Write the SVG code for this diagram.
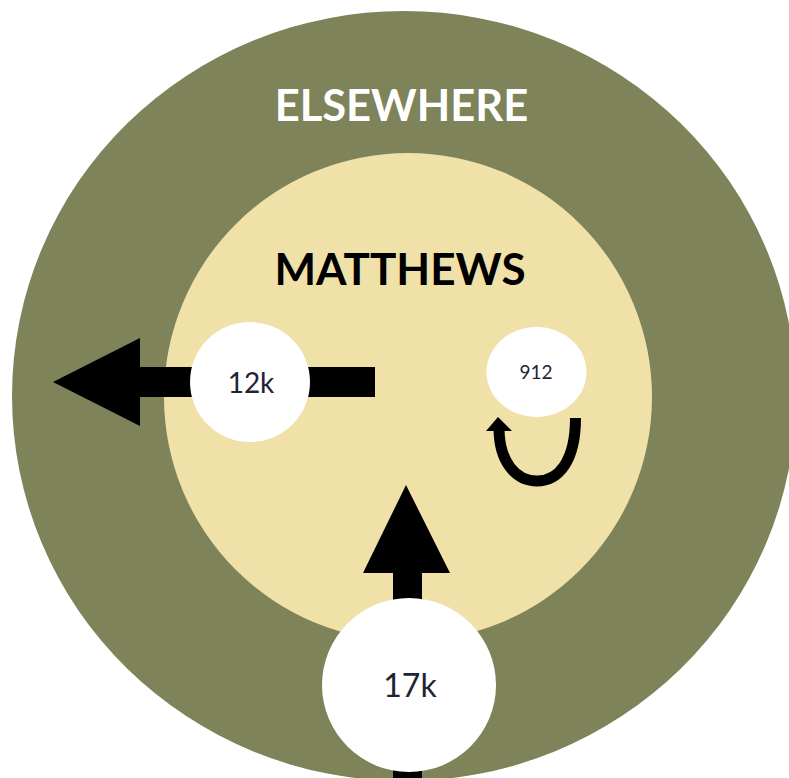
<svg xmlns="http://www.w3.org/2000/svg" width="789" height="778" viewBox="0 0 789 778">
  <style>
    .region-outer { fill: #7E8359; }
    .region-inner { fill: #F0E1A9; }
    .title { font-family: Lato, "Liberation Sans", sans-serif; font-weight: bold; text-anchor: middle; }
    .node { fill: #FFFFFF; }
    .label { font-family: Lato, "Liberation Sans", sans-serif; fill: #1E2433; text-anchor: middle; }
    .shaft { fill: #000000; }
    .head { fill: #000000; }
    .loop { fill: none; stroke: #000000; stroke-width: 11; }
  </style>
  <rect width="789" height="778" fill="#FFFFFF"/>
  <g id="elsewhere">
    <ellipse class="region-outer" cx="404" cy="396" rx="392" ry="385"/>
    <text class="title" x="401.5" y="120.5" font-size="43.5" fill="#FFFFFF">ELSEWHERE</text>
  </g>
  <g id="matthews">
    <circle class="region-inner" cx="408" cy="397" r="244"/>
    <text class="title" x="400" y="285" font-size="44" fill="#000000">MATTHEWS</text>
  </g>
  <g id="connectors">
    <rect class="shaft" x="138" y="367" width="237" height="30"/>
    <polygon class="head" points="53,382 140,338 140,426"/>
    <rect class="shaft" x="393" y="570" width="29" height="210"/>
    <polygon class="head" points="406,485 363,573 450,573"/>
    <path class="loop" d="M575.5,418 C575.5,462 558,481 537,481 C516,481 499,462 499,428"/>
    <polygon class="head" points="498,417 486,431 512,431"/>
  </g>
  <g id="node-12k">
    <circle class="node" cx="250" cy="382" r="60"/>
    <text class="label" x="251" y="393" font-size="28">12k</text>
  </g>
  <g id="node-912">
    <ellipse class="node" cx="536.5" cy="372" rx="50" ry="45"/>
    <text class="label" x="536" y="379" font-size="19">912</text>
  </g>
  <g id="node-17k">
    <circle class="node" cx="409" cy="685" r="87"/>
    <text class="label" x="410" y="697" font-size="32">17k</text>
  </g>
</svg>
